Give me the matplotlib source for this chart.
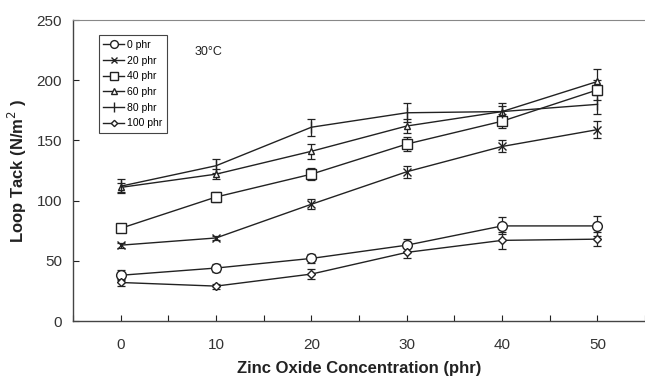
import numpy as np
import matplotlib
matplotlib.use("Agg")
import matplotlib.pyplot as plt
from matplotlib.ticker import MultipleLocator

plt.rcParams['font.family'] = ['Liberation Sans', 'DejaVu Sans']

# Zinc oxide loading on x axis, one series per filler loading
zno = [0, 10, 20, 30, 40, 50]
labels = ['0 phr', '20 phr', '40 phr', '60 phr', '80 phr', '100 phr']
tack_0 = [38, 44, 52, 63, 79, 79]
tack_20 = [63, 69, 97, 124, 145, 159]
tack_40 = [77, 103, 122, 147, 166, 192]
tack_60 = [111, 122, 141, 162, 174, 199]
tack_80 = [112, 129, 161, 173, 174, 180]
tack_100 = [32, 29, 39, 57, 67, 68]
err_0 = [4, 3, 4, 5, 7, 8]
err_20 = [2, 2, 4, 5, 5, 7]
err_40 = [2, 4, 5, 6, 6, 8]
err_60 = [4, 4, 6, 6, 5, 10]
err_80 = [6, 6, 7, 8, 7, 8]
err_100 = [3, 2, 4, 5, 7, 6]

series = [tack_0, tack_20, tack_40, tack_60, tack_80, tack_100]
errors = [err_0, err_20, err_40, err_60, err_80, err_100]
markers = ['o', 'x', 's', '^', '|', 'D']
msizes = [7, 6, 7, 5, 9, 4]

fig = plt.figure(figsize=(6.45, 3.79), dpi=100, facecolor='white')
ax = fig.add_axes([0.1132, 0.153, 0.887, 0.794])

ink = '#222222'
for y, e, m, ms, lab in zip(series, errors, markers, msizes, labels):
    ax.errorbar(zno, y, yerr=e, fmt='none', ecolor=ink, elinewidth=0.9,
                capsize=3, capthick=0.9, zorder=2)
    ax.plot(zno, y, color=ink, lw=1.0, marker=m, markersize=ms,
            markerfacecolor='white', markeredgecolor=ink, markeredgewidth=1.0,
            label=lab, zorder=3)

ax.set_xlim(-5, 55)
ax.set_ylim(0, 250)
ax.xaxis.set_major_locator(MultipleLocator(10))
ax.xaxis.set_minor_locator(MultipleLocator(5))
ax.yaxis.set_major_locator(MultipleLocator(50))
ax.tick_params(axis='both', which='both', direction='in', length=4,
               width=0.8, color=ink, labelsize=11, labelcolor='#333333')
ax.tick_params(axis='x', pad=12)
ax.tick_params(axis='y', pad=8)

ax.spines['right'].set_visible(False)
ax.spines['top'].set_color('#888888')
for s in ['left', 'bottom']:
    ax.spines[s].set_color('#444444')
    ax.spines[s].set_linewidth(1.0)

ax.set_xlabel('Zinc Oxide Concentration (phr)', fontsize=12, fontweight='bold',
              color='#222222', labelpad=7)
ax.set_ylabel('Loop Tack (N/m$^{2}$ )', fontsize=12, fontweight='bold',
              color='#222222', labelpad=5)

ax.text(0.213, 0.885, '30°C', transform=ax.transAxes, fontsize=9,
        color='#222222')

leg = ax.legend(loc='upper left', bbox_to_anchor=(0.045, 0.95),
                borderaxespad=0, fontsize=7.5, handlelength=2.0,
                labelspacing=0.55, handletextpad=0.3, borderpad=0.45,
                fancybox=False, framealpha=1, markerscale=0.8)
leg.get_frame().set_edgecolor('#444444')
leg.get_frame().set_linewidth(0.8)

fig.savefig('out.png', dpi=100)
